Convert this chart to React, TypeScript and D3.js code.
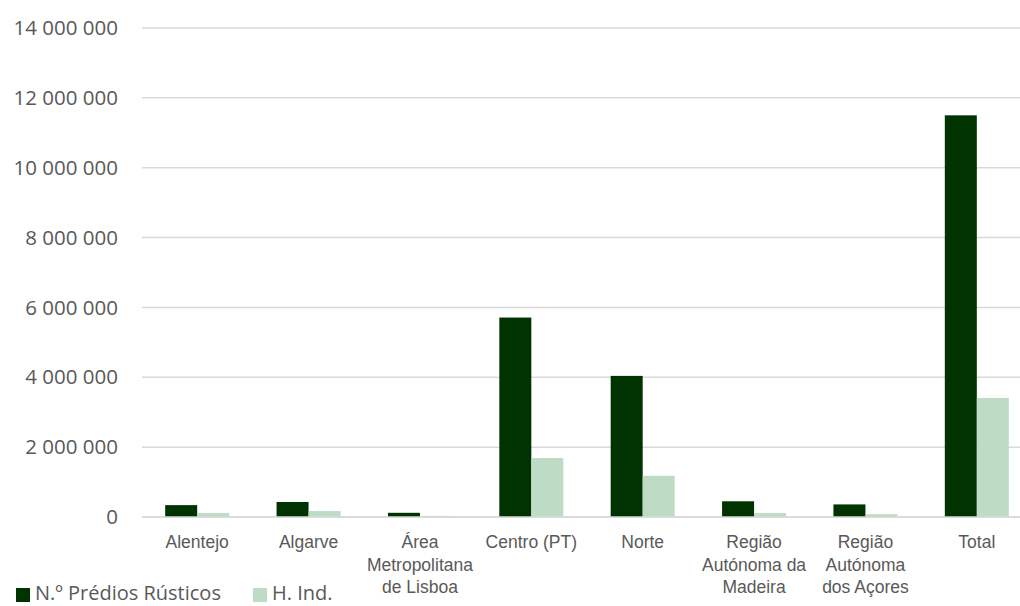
import React from "react";
import * as d3 from "d3";

const categories: string[][] = [
  ["Alentejo"],
  ["Algarve"],
  ["Área", "Metropolitana", "de Lisboa"],
  ["Centro (PT)"],
  ["Norte"],
  ["Região", "Autónoma da", "Madeira"],
  ["Região", "Autónoma", "dos Açores"],
  ["Total"],
];
const predios: number[] = [340000, 430000, 120000, 5710000, 4040000, 450000, 360000, 11500000];
const hind: number[] = [110000, 170000, 30000, 1690000, 1180000, 110000, 80000, 3410000];
const yTicks: number[] = [0, 2000000, 4000000, 6000000, 8000000, 10000000, 12000000, 14000000];
const seriesNames = ["N.º Prédios Rústicos", "H. Ind."];
const colors = ["#003300", "#bddbc5"];

export default function App() {
  const W = 1020, H = 606;
  const left = 142, right = 1020, top = 28, bottom = 517;
  const x = d3.scaleBand<number>().domain(d3.range(categories.length)).range([141.5, 1032.5]);
  const y = d3.scaleLinear().domain([0, 14000000]).range([bottom, top]);
  const barW = 32;
  const fmt = (v: number) => d3.format(",")(v).replace(/,/g, " ");
  return (
    <svg width={W} height={H} style={{ position: "absolute", left: 0, top: 0 }}>
      <rect width={W} height={H} fill="#fff" />
      {yTicks.map((t) => (
        <g key={t}>
          <line x1={left} x2={right} y1={y(t)} y2={y(t)} stroke="#d9d9d9" strokeWidth={1.5} />
          <text x={118} y={y(t)} dy="0.35em" textAnchor="end" fontFamily="'Open Sans', sans-serif" fontSize={20.5} fill="#595959">
            {fmt(t)}
          </text>
        </g>
      ))}
      {categories.map((c, i) => {
        const cx = (x(i) as number) + x.bandwidth() / 2;
        return (
          <g key={i}>
            <rect x={cx - barW} y={y(predios[i])} width={barW} height={bottom - y(predios[i])} fill={colors[0]} />
            <rect x={cx} y={y(hind[i])} width={barW} height={bottom - y(hind[i])} fill={colors[1]} />
            <text textAnchor="middle" fontFamily="'Liberation Sans', Arial, sans-serif" fontSize={17.5} fill="#595959">
              {c.map((line, j) => (
                <tspan key={j} x={cx} y={548 + j * 22.5}>{line}</tspan>
              ))}
            </text>
          </g>
        );
      })}
      <line x1={left} x2={right} y1={bottom} y2={bottom} stroke="#d9d9d9" strokeWidth={1.5} />
      <g fontFamily="'Open Sans', sans-serif" fontSize={20} fill="#595959">
        <rect x={16} y={588} width={14} height={14} fill={colors[0]} />
        <text x={35} y={600}>{seriesNames[0]}</text>
        <rect x={253} y={588} width={14} height={14} fill={colors[1]} />
        <text x={272} y={600}>{seriesNames[1]}</text>
      </g>
    </svg>
  );
}
